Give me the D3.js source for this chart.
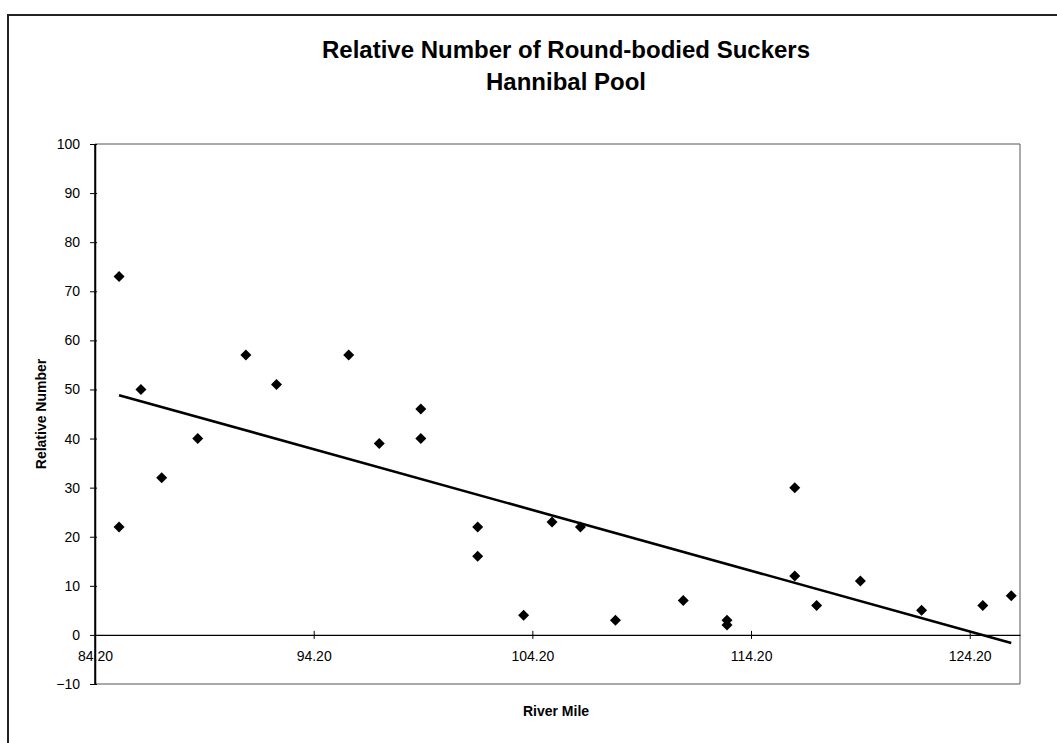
<!DOCTYPE html>
<html>
<head>
<meta charset="utf-8">
<script src="https://cdn.jsdelivr.net/npm/d3@7"></script>
<style>
  body { margin: 0; background: #fff; }
  svg { display: block; font-family: "Liberation Sans", Arial, sans-serif; }
</style>
</head>
<body>
<div id="main"></div>
<script>
// river mile of each sample site
const riverMiles = [85.3, 85.3, 86.3, 87.25, 88.9, 91.1, 92.5, 95.8, 97.2, 99.1, 99.1,
    101.7, 101.7, 103.8, 105.1, 106.4, 108.0, 111.1, 113.1, 113.1, 116.2, 116.2,
    117.2, 119.2, 122.0, 124.8, 126.1];
// relative number of round-bodied suckers
const relNumbers = [73, 22, 50, 32, 40, 57, 51, 57, 39, 46, 40,
    22, 16, 4, 23, 22, 3, 7, 3, 2, 30, 12,
    6, 11, 5, 6, 8];
const xTicks = [84.2, 94.2, 104.2, 114.2, 124.2];
const yTicks = [-10, 0, 10, 20, 30, 40, 50, 60, 70, 80, 90, 100];

const width = 1057, height = 743;
const plot = {left: 95, right: 1020, top: 144, bottom: 684};
const font = '"Liberation Sans", Arial, sans-serif';

const svg = d3.select('#main').append('svg')
    .attr('width', width)
    .attr('height', height);

// outer chart frame (only left and top edges are on the page)
svg.append('path')
    .attr('d', `M8,${height} L8,15 L${width},15`)
    .attr('fill', 'none')
    .attr('stroke', '#222')
    .attr('stroke-width', 2);

const x = d3.scaleLinear().domain([84.2, 126.5]).range([plot.left, plot.right]);
const y = d3.scaleLinear().domain([-10, 100]).range([plot.bottom, plot.top]);

// title
const title = svg.append('g').attr('font-weight', 'bold').attr('font-size', 24)
    .attr('text-anchor', 'middle');
title.append('text').attr('x', 566).attr('y', 58).text('Relative Number of Round-bodied Suckers');
title.append('text').attr('x', 566).attr('y', 90).text('Hannibal Pool');

// plot area border (top, right, bottom)
svg.append('path')
    .attr('d', `M${plot.left},${plot.top} H${plot.right} V${plot.bottom} H${plot.left}`)
    .attr('fill', 'none')
    .attr('stroke', '#555')
    .attr('stroke-width', 1);

// y axis
const yAxis = svg.append('g')
    .attr('transform', `translate(${plot.left},0)`)
    .call(d3.axisLeft(y).tickValues(yTicks).tickSizeInner(5).tickSizeOuter(0).tickPadding(10));
yAxis.select('.domain').attr('stroke', '#000').attr('stroke-width', 1.5);
yAxis.selectAll('.tick line').attr('x2', -5).attr('x1', 2).attr('stroke', '#000');
yAxis.selectAll('.tick text').attr('font-size', 14).attr('fill', '#000').attr('font-family', font);

// x axis crossing at zero
const xAxis = svg.append('g')
    .attr('transform', `translate(0,${y(0)})`)
    .call(d3.axisBottom(x).tickValues(xTicks).tickFormat(d => d.toFixed(2))
        .tickSizeInner(4).tickSizeOuter(0).tickPadding(12));
xAxis.select('.domain').attr('stroke', '#000').attr('stroke-width', 1.2);
xAxis.selectAll('.tick line').attr('y1', -4).attr('y2', 4).attr('stroke', '#000');
xAxis.selectAll('.tick text').attr('font-size', 14).attr('fill', '#000').attr('font-family', font);

// y axis line drawn again on top, it cuts through the "84.20" label as in the original
svg.append('line')
    .attr('x1', plot.left).attr('x2', plot.left)
    .attr('y1', plot.top).attr('y2', plot.bottom)
    .attr('stroke', '#000').attr('stroke-width', 1.5);

// axis titles
svg.append('text')
    .attr('transform', `translate(46,${(plot.top + plot.bottom) / 2}) rotate(-90)`)
    .attr('text-anchor', 'middle')
    .attr('font-weight', 'bold').attr('font-size', 14)
    .text('Relative Number');
svg.append('text')
    .attr('x', 556).attr('y', 716)
    .attr('text-anchor', 'middle')
    .attr('font-weight', 'bold').attr('font-size', 14)
    .text('River Mile');

// linear trend line (least squares fit, spanning the data range)
const points = riverMiles.map((m, i) => ({mile: m, value: relNumbers[i]}));
const mx = d3.mean(riverMiles), my = d3.mean(relNumbers);
const slope = d3.sum(points, p => (p.mile - mx) * (p.value - my)) /
    d3.sum(points, p => (p.mile - mx) ** 2);
const intercept = my - slope * mx;
const [xmin, xmax] = d3.extent(riverMiles);
svg.append('line')
    .attr('x1', x(xmin)).attr('y1', y(intercept + slope * xmin))
    .attr('x2', x(xmax)).attr('y2', y(intercept + slope * xmax))
    .attr('stroke', '#000')
    .attr('stroke-width', 2.6);

// diamond markers
svg.append('g').selectAll('path')
    .data(points)
    .join('path')
    .attr('transform', d => `translate(${x(d.mile)},${y(d.value)})`)
    .attr('d', 'M0,-5.5 L5.5,0 L0,5.5 L-5.5,0 Z')
    .attr('fill', '#000');
</script>
</body>
</html>
